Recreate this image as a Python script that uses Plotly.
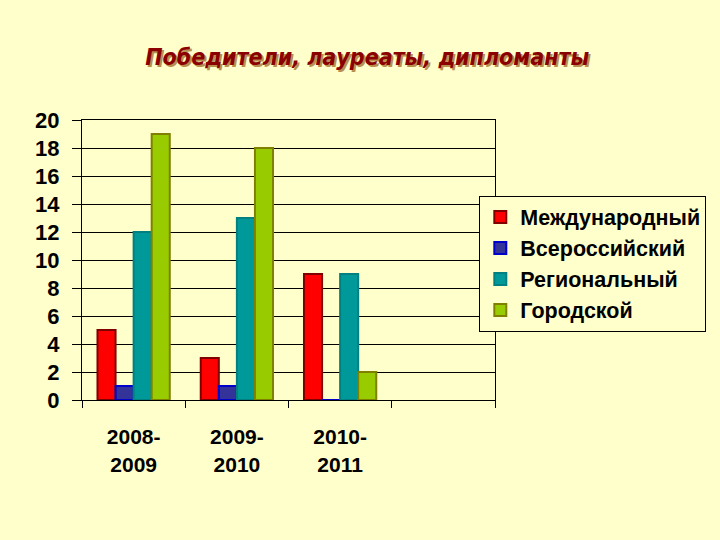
import plotly.graph_objects as go

categories = ["2008-<br>2009", "2009-<br>2010", "2010-<br>2011", " "]
series_names = ["Международный", "Всероссийский", "Региональный", "Городской"]
mezhdunarodny = [5, 3, 9, None]
vserossiysky = [1, 1, 0, None]
regionalny = [12, 13, 9, None]
gorodskoy = [19, 18, 2, None]

fills = ["#FF0000", "#333399", "#009999", "#99CC00"]
borders = ["#800000", "#0000CC", "#008080", "#808000"]

bg = "#FFFFCC"

fig = go.Figure()
for name, vals, fc, lc in zip(
    series_names, [mezhdunarodny, vserossiysky, regionalny, gorodskoy], fills, borders
):
    fig.add_trace(
        go.Bar(
            x=categories,
            y=vals,
            name="<b>" + name + "</b>",
            marker=dict(color=fc, line=dict(color=lc, width=2)),
        )
    )

fig.update_layout(
    width=720,
    height=540,
    paper_bgcolor=bg,
    plot_bgcolor=bg,
    margin=dict(l=82, r=225, t=120, b=140),
    barmode="group",
    bargap=0.3,
    bargroupgap=0,
    font=dict(family="Liberation Sans, Arial", color="black"),
    title=dict(
        text="<b><i>Победители, лауреаты, дипломанты</i></b>",
        x=0.51,
        xanchor="center",
        y=0.895,
        yanchor="middle",
        font=dict(
            family="DejaVu Sans Condensed, Liberation Sans Narrow",
            size=23,
            color="#8B0000",
            shadow="2px 2px 0px #B89050",
        ),
    ),
    legend=dict(
        x=0.962,
        y=0.73,
        xanchor="left",
        yanchor="top",
        bgcolor=bg,
        bordercolor="black",
        borderwidth=1,
        font=dict(size=21.5, family="Liberation Sans, Arial"),
        itemwidth=30,
    ),
)

fig.update_xaxes(
    showline=True,
    linecolor="black",
    linewidth=1,
    mirror=True,
    ticks="outside",
    tickson="boundaries",
    ticklen=7,
    tickcolor="black",
    tickfont=dict(size=21, family="Liberation Sans, Arial"),
    ticklabelstandoff=18,
    tickprefix="<b>",
    ticksuffix="</b>",
)
fig.update_yaxes(
    range=[0, 20],
    dtick=2,
    showline=True,
    linecolor="black",
    linewidth=1,
    mirror=True,
    showgrid=True,
    gridcolor="black",
    gridwidth=1,
    ticks="outside",
    ticklen=9,
    tickcolor="black",
    tickfont=dict(size=22, family="Liberation Sans, Arial"),
    ticklabelstandoff=8,
    tickprefix="<b>",
    ticksuffix="</b>",
    zeroline=False,
)

fig.write_html(
    "out.html",
    config={"displayModeBar": False},
    post_script="document.body.style.margin='0';document.body.style.background='#FFFFCC';",
)
